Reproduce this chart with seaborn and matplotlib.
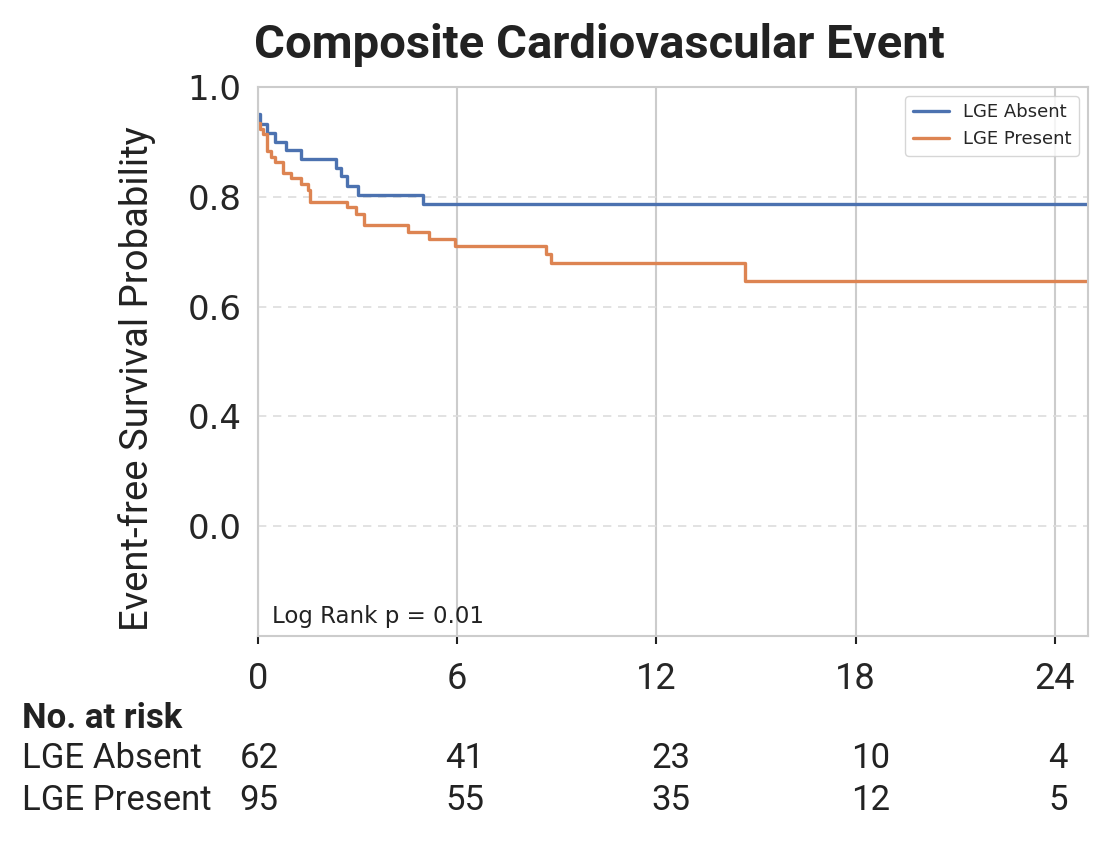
import numpy as np
import pandas as pd
import matplotlib
matplotlib.use("Agg")
import matplotlib.pyplot as plt
import seaborn as sns

# Kaplan-Meier step estimates (months, survival)
absent_t = [0, 0.06, 0.26, 0.51, 0.84, 1.31, 2.36, 2.51, 2.67, 3.0, 4.98]
absent_s = [0.95, 0.933, 0.917, 0.90, 0.885, 0.869, 0.853, 0.837, 0.82, 0.804, 0.786]
present_t = [0, 0.05, 0.14, 0.26, 0.39, 0.51, 0.76, 0.98, 1.31, 1.50, 1.58,
             2.68, 2.94, 3.18, 4.51, 5.14, 5.94, 8.66, 8.84, 14.68]
present_s = [0.935, 0.924, 0.914, 0.884, 0.873, 0.864, 0.844, 0.834, 0.824, 0.813, 0.79,
             0.781, 0.769, 0.748, 0.735, 0.723, 0.711, 0.695, 0.679, 0.647]
followup_end = 25

groups = ["LGE Absent", "LGE Present"]
risk_times = [0, 6, 12, 18, 24]
risk_absent = [62, 41, 23, 10, 4]
risk_present = [95, 55, 35, 12, 5]
ytick_vals = [0.2, 0.4, 0.6, 0.8, 1.0]
ytick_text = ["0.0", "0.4", "0.6", "0.8", "1.0"]

rows = []
for g, tt, ss in [(groups[0], absent_t, absent_s), (groups[1], present_t, present_s)]:
    for t, s in zip(tt + [followup_end], ss + [ss[-1]]):
        rows.append({"time": t, "surv": s, "group": g})
df = pd.DataFrame(rows)

sns.set_theme(style="whitegrid")
plt.rcParams['font.family'] = ['Roboto', 'DejaVu Sans']

fig = plt.figure(figsize=(11.16, 8.48), dpi=100)
ax = fig.add_axes([258/1116, 1-636/848, 830/1116, 549/848])

pal = {"LGE Absent": "#4C72B0", "LGE Present": "#DD8452"}
sns.lineplot(data=df, x="time", y="surv", hue="group", palette=pal, ax=ax,
             drawstyle="steps-post", estimator=None, sort=False, linewidth=2.4)

ax.set_xlim(0, followup_end)
ax.set_ylim(0, 1.0)
ax.set_xticks(risk_times)
ax.set_yticks(ytick_vals)
ax.set_yticklabels(ytick_text, fontfamily="DejaVu Sans")
ax.tick_params(axis="x", labelsize=26, length=6, width=1.5, color="#222222",
               pad=12, direction="out", bottom=True)
ax.tick_params(axis="y", labelsize=24.5, length=0, pad=12)
ax.set_xlabel("")
ax.set_ylabel("")

ax.grid(axis="x", color="#cccccc", linewidth=1.5, linestyle="-")
ax.grid(axis="y", color="#dddddd", linewidth=1.2, linestyle=(0, (5, 4)))
for sp in ax.spines.values():
    sp.set_color("#cccccc")
    sp.set_linewidth(1.5)

leg = ax.legend(loc="upper right", prop={"family": "DejaVu Sans", "size": 13},
                frameon=True, borderaxespad=0.5)
leg.get_frame().set_edgecolor("#cccccc")

ax.text(0.017, 0.015, "Log Rank p = 0.01", transform=ax.transAxes,
        fontsize=16.5, fontfamily="DejaVu Sans", color="#222222", va="bottom", ha="left")

fig.text(599/1116, 1-45/848, "Composite Cardiovascular Event", ha="center", va="center",
         fontsize=34, fontweight="bold", color="#222222")
fig.text(137/1116, 1-379/848, "Event-free Survival Probability", rotation=90,
         ha="center", va="center", fontsize=27.5, color="#222222")

# number-at-risk table
col_x = [259, 465, 671, 871, 1058]
fig.text(22/1116, 1-718/848, "No. at risk", fontsize=25, fontweight="bold",
         color="#222222", va="center", ha="left")
for label, counts, ypix in [(groups[0], risk_absent, 758), (groups[1], risk_present, 800)]:
    fig.text(22/1116, 1-ypix/848, label, fontsize=25, color="#222222", va="center", ha="left")
    for xp, n in zip(col_x, counts):
        fig.text(xp/1116, 1-ypix/848, str(n), fontsize=25, color="#222222",
                 va="center", ha="center")

fig.savefig("out.png", dpi=100)
